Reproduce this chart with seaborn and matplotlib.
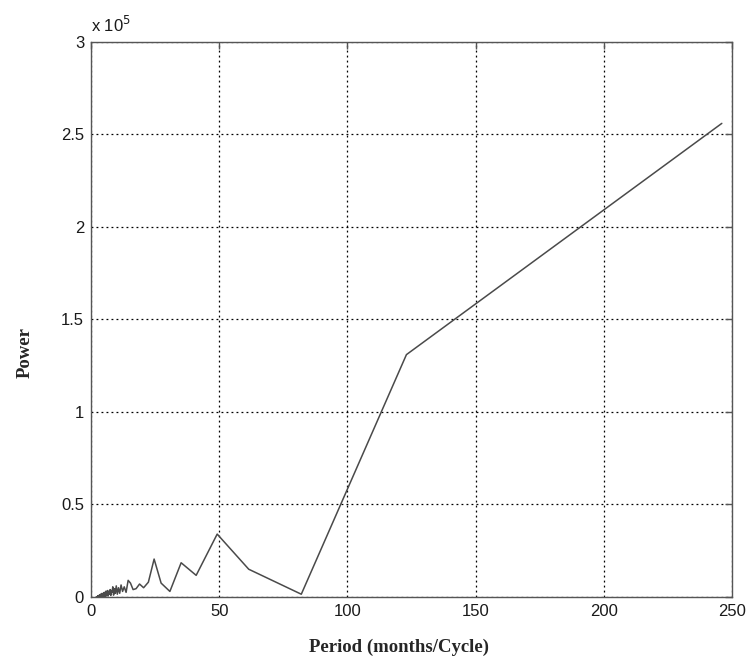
import matplotlib
matplotlib.use("Agg")
import matplotlib.pyplot as plt
import seaborn as sns
import pandas as pd

# Period (months/cycle) of each periodogram ordinate
period = [
    246.00, 123.00, 82.00, 61.50, 49.20, 41.00, 35.14, 30.75, 27.33, 24.60,
    22.36, 20.50, 18.92, 17.57, 16.40, 15.38, 14.47, 13.67, 12.95, 12.30,
    11.71, 11.18, 10.70, 10.25, 9.84, 9.46, 9.11, 8.79, 8.48, 8.20,
    7.94, 7.69, 7.45, 7.24, 7.03, 6.83, 6.65, 6.47, 6.31, 6.15,
    6.00, 5.86, 5.72, 5.59, 5.47, 5.35, 5.23, 5.13, 5.02, 4.92,
    4.82, 4.73, 4.64, 4.56, 4.47, 4.39, 4.32, 4.24, 4.17, 4.10,
    4.03, 3.97, 3.90, 3.84, 3.78, 3.73, 3.67, 3.62, 3.57, 3.51,
    3.46, 3.42, 3.37, 3.32, 3.28, 3.24, 3.19, 3.15, 3.11, 3.08,
    3.04, 3.00, 2.96, 2.93, 2.89, 2.86, 2.83, 2.80, 2.76, 2.73,
    2.70, 2.67, 2.65, 2.62, 2.59, 2.56, 2.54, 2.51, 2.48, 2.46,
    2.44, 2.41, 2.39, 2.37, 2.34, 2.32, 2.30, 2.28, 2.26, 2.24,
    2.22, 2.20, 2.18, 2.16, 2.14, 2.12, 2.10, 2.08, 2.07, 2.05,
    2.03, 2.02, 2.00,
]

# Power, in thousands
power_k = [
    256.0, 131.0, 1.5, 15.0, 34.0, 11.7, 18.5, 3.0, 7.5, 20.5,
    8.0, 5.0, 7.0, 4.5, 4.0, 7.5, 9.0, 2.5, 5.5, 3.0,
    6.5, 2.0, 5.0, 1.5, 6.0, 2.0, 4.5, 1.0, 5.5, 2.5,
    3.5, 0.8, 4.0, 1.5, 3.0, 2.5, 0.5, 3.5, 1.2, 2.8,
    0.6, 3.2, 1.8, 0.4, 2.6, 1.0, 2.2, 0.3, 2.4, 1.4,
    0.7, 2.0, 0.5, 1.8, 1.1, 0.3, 1.6, 0.9, 1.9, 0.4,
    1.3, 0.6, 1.5, 0.2, 1.2, 0.8, 1.4, 0.3, 1.0, 0.5,
    1.1, 0.2, 0.9, 0.6, 0.8, 0.3, 0.7, 0.4, 0.9, 0.2,
    0.6, 0.5, 0.7, 0.1, 0.5, 0.3, 0.6, 0.2, 0.4, 0.3,
    0.5, 0.1, 0.4, 0.2, 0.3, 0.1, 0.3, 0.2, 0.25, 0.1,
    0.2, 0.15, 0.1, 0.2, 0.15, 0.05, 0.12, 0.1, 0.08, 0.15,
    0.05, 0.1, 0.08, 0.06, 0.1, 0.04, 0.07, 0.05, 0.06, 0.03,
    0.05, 0.04, 0.02,
]

xticks = [0, 50, 100, 150, 200, 250]
yticks = [0, 0.5, 1, 1.5, 2, 2.5, 3]
ytick_labels = ["0", "0.5", "1", "1.5", "2", "2.5", "3"]

df = pd.DataFrame({"period": period, "power": [v * 1000 for v in power_k]})

sns.set_style("white")
plt.rcParams["font.family"] = ["Liberation Sans", "DejaVu Sans"]

fig = plt.figure(figsize=(7.53, 6.59), dpi=100)
ax = fig.add_axes([0.1209, 0.0941, 0.8513, 0.8422])

sns.lineplot(data=df, x="period", y="power", ax=ax, color="#4a4a4a",
             linewidth=1.1, sort=True, estimator=None)

ax.set_xlim(0, 250)
ax.set_ylim(0, 3e5)
ax.set_xticks(xticks)
ax.set_xticklabels([str(t) for t in xticks])
ax.set_yticks([t * 1e5 for t in yticks])
ax.set_yticklabels(ytick_labels)

ax.grid(True, color="black", linestyle=(0, (1.5, 2.5)), linewidth=0.9)
for s in ax.spines.values():
    s.set_color("#555555")
    s.set_linewidth(1.0)
ax.tick_params(direction="in", length=5, width=1.0, color="#555555",
               top=True, right=True, labelsize=12, labelcolor="#1a1a1a", pad=5)

ax.set_xlabel("Period (months/Cycle)", fontfamily="Liberation Serif",
              fontweight="bold", fontsize=13.5)
ax.set_ylabel("Power", fontfamily="Liberation Serif",
              fontweight="bold", fontsize=13.5)
ax.xaxis.set_label_coords(0.48, -0.075)
ax.yaxis.set_label_coords(-0.09, 0.44)

ax.text(0.0, 1.012, r"x 10$^{5}$", transform=ax.transAxes, fontsize=12,
        ha="left", va="bottom", color="#1a1a1a")

fig.savefig("out.png", dpi=100)
